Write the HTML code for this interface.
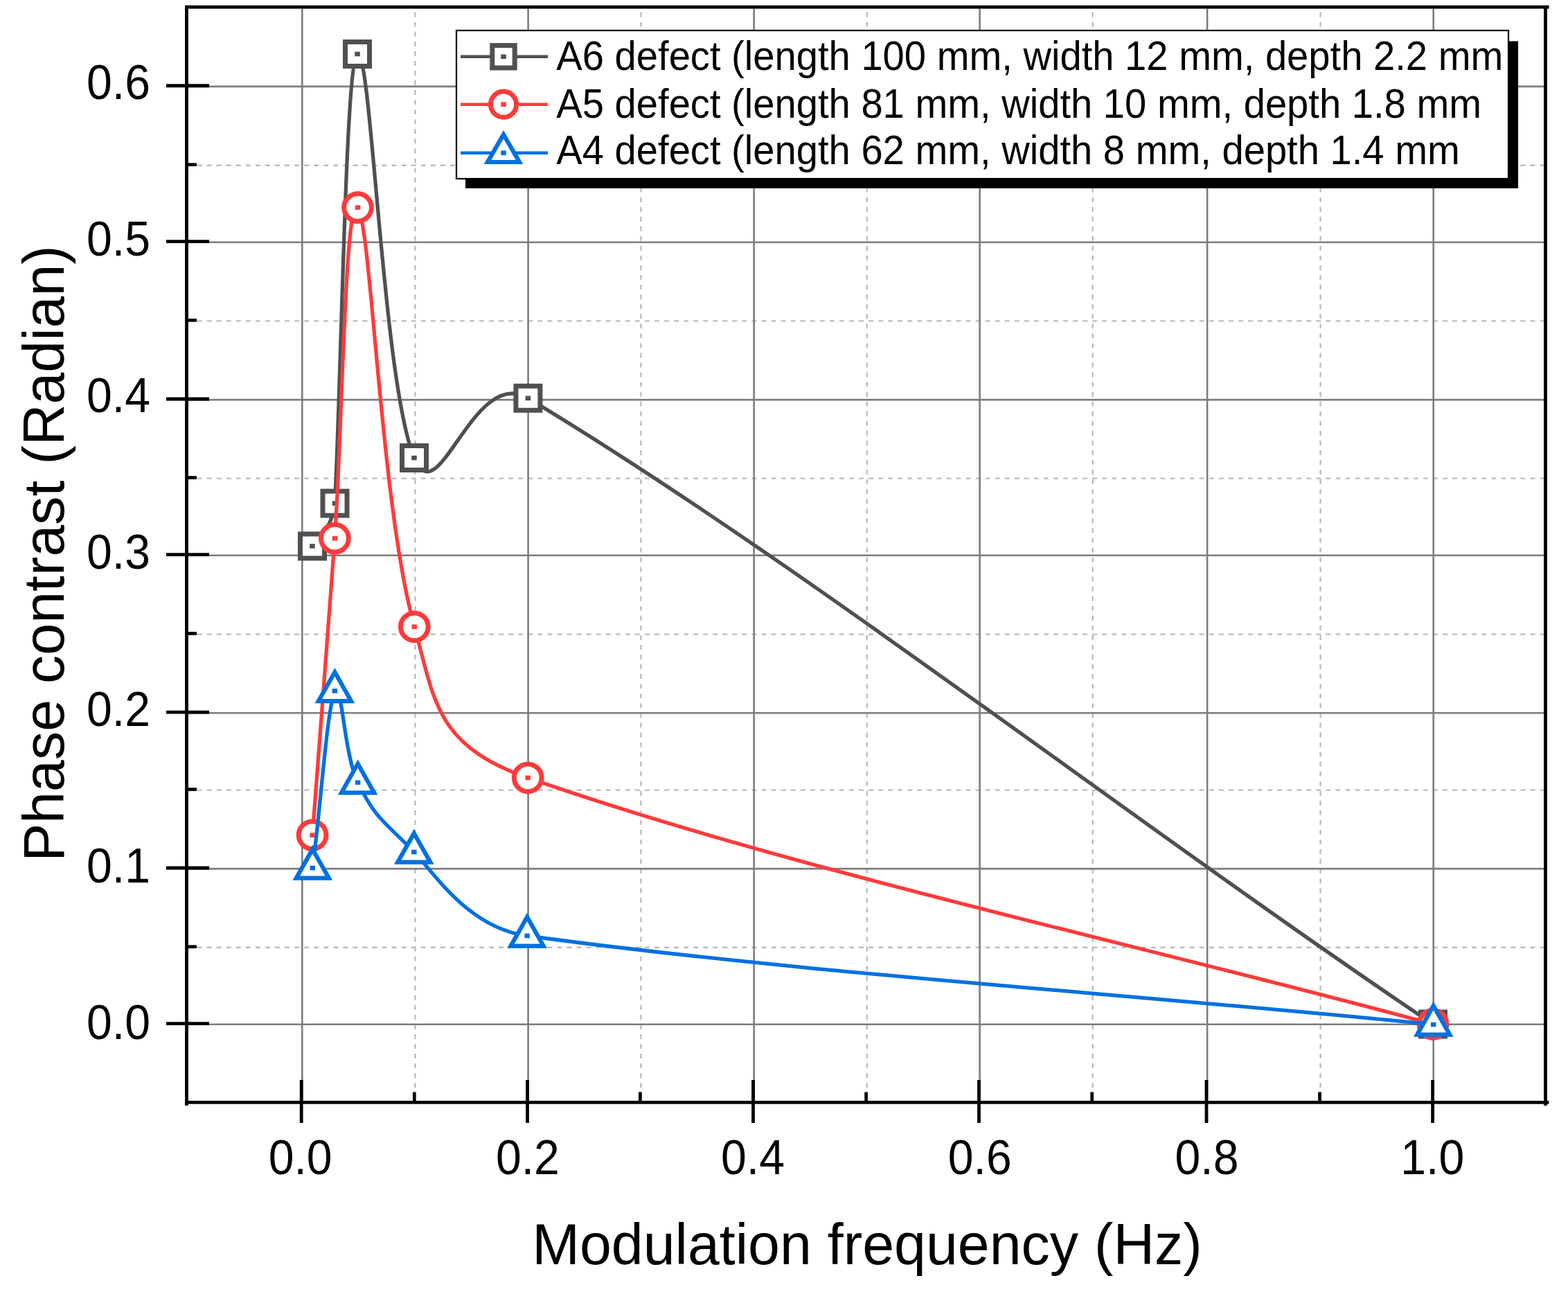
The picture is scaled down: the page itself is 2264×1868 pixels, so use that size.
<!DOCTYPE html>
<html><head><meta charset="utf-8"><title>Phase contrast vs modulation frequency</title>
<style>html,body{margin:0;padding:0;background:#fff;}body{width:2264px;height:1868px;overflow:hidden;}svg{display:block;}</style>
</head><body>
<svg xmlns="http://www.w3.org/2000/svg" width="2264" height="1868" viewBox="0 0 2264 1868">
<rect x="0" y="0" width="2264" height="1868" fill="#fff"/>
<g stroke="#bdbdbd" stroke-width="2.4" stroke-dasharray="7 7.05"><line x1="599.4" y1="12.5" x2="599.4" y2="1576.5" stroke-dashoffset="8.85"/><line x1="925.5" y1="12.5" x2="925.5" y2="1576.5" stroke-dashoffset="8.85"/><line x1="1251.7" y1="12.5" x2="1251.7" y2="1576.5" stroke-dashoffset="8.85"/><line x1="1577.8" y1="12.5" x2="1577.8" y2="1576.5" stroke-dashoffset="8.85"/><line x1="1906.6" y1="12.5" x2="1906.6" y2="1576.5" stroke-dashoffset="8.85"/><line x1="284" y1="1367.8" x2="2229" y2="1367.8" stroke-dashoffset="13.45"/><line x1="284" y1="1140.6" x2="2229" y2="1140.6" stroke-dashoffset="13.45"/><line x1="284" y1="915.6" x2="2229" y2="915.6" stroke-dashoffset="13.45"/><line x1="284" y1="690.6" x2="2229" y2="690.6" stroke-dashoffset="13.45"/><line x1="284" y1="463.4" x2="2229" y2="463.4" stroke-dashoffset="13.45"/><line x1="284" y1="238.8" x2="2229" y2="238.8" stroke-dashoffset="13.45"/></g>
<g stroke="#7c7c7c" stroke-width="2.6"><line x1="436.3" y1="12.5" x2="436.3" y2="1589"/><line x1="762.6" y1="12.5" x2="762.6" y2="1589"/><line x1="1088.6" y1="12.5" x2="1088.6" y2="1589"/><line x1="1414.6" y1="12.5" x2="1414.6" y2="1589"/><line x1="1743.1" y1="12.5" x2="1743.1" y2="1589"/><line x1="2069.7" y1="12.5" x2="2069.7" y2="1589"/><line x1="272" y1="1478.7" x2="2229" y2="1478.7"/><line x1="272" y1="1254.1" x2="2229" y2="1254.1"/><line x1="272" y1="1029.2" x2="2229" y2="1029.2"/><line x1="272" y1="801.7" x2="2229" y2="801.7"/><line x1="272" y1="577.1" x2="2229" y2="577.1"/><line x1="272" y1="349.8" x2="2229" y2="349.8"/><line x1="272" y1="124.85" x2="2229" y2="124.85"/></g>
<path d="M451,788.4 C459.48,784.77 482.22,752.23 483.5,726.6 C493.28,530.64 499.16,88 516,78 C536.32,65.93 552.24,550.04 598,661 C633.15,746.22 683.18,527.1 762.4,574.8 C1156.66,812.17 1639.1,1189.38 2069,1478.5" fill="none" stroke="#505050" stroke-width="5.3" stroke-linejoin="round"/>
<rect x="433.5" y="770.9" width="35" height="35" fill="#fff" stroke="#505050" stroke-width="7"/><rect x="447.25" y="785.1" width="7.5" height="6.6" fill="#505050"/><rect x="466" y="709.1" width="35" height="35" fill="#fff" stroke="#505050" stroke-width="7"/><rect x="479.75" y="723.3" width="7.5" height="6.6" fill="#505050"/><rect x="498.5" y="60.5" width="35" height="35" fill="#fff" stroke="#505050" stroke-width="7"/><rect x="512.25" y="74.7" width="7.5" height="6.6" fill="#505050"/><rect x="580.5" y="643.5" width="35" height="35" fill="#fff" stroke="#505050" stroke-width="7"/><rect x="594.25" y="657.7" width="7.5" height="6.6" fill="#505050"/><rect x="744.9" y="557.3" width="35" height="35" fill="#fff" stroke="#505050" stroke-width="7"/><rect x="758.65" y="571.5" width="7.5" height="6.6" fill="#505050"/><rect x="2051.5" y="1461" width="35" height="35" fill="#fff" stroke="#505050" stroke-width="7"/><rect x="2065.25" y="1475.2" width="7.5" height="6.6" fill="#505050"/>
<path d="M451.1,1205.6 C461.04,1067.35 473.72,916.24 483.4,777.2 C493.83,627.46 498.19,277.25 516.5,299.5 C536.11,323.32 549.19,728.03 598.3,904.8 C628.07,1011.98 628.33,1075.84 762.2,1122.8 C1137.89,1254.59 1645.98,1363.47 2069,1478.5" fill="none" stroke="#FF3B3B" stroke-width="5.3" stroke-linejoin="round"/>
<circle cx="451.1" cy="1205.6" r="19.9" fill="#fff" stroke="#FF3B3B" stroke-width="7"/><rect x="447.35" y="1202.3" width="7.5" height="6.6" fill="#FF3B3B"/><circle cx="483.4" cy="777.2" r="19.9" fill="#fff" stroke="#FF3B3B" stroke-width="7"/><rect x="479.65" y="773.9" width="7.5" height="6.6" fill="#FF3B3B"/><circle cx="516.5" cy="299.5" r="19.9" fill="#fff" stroke="#FF3B3B" stroke-width="7"/><rect x="512.75" y="296.2" width="7.5" height="6.6" fill="#FF3B3B"/><circle cx="598.3" cy="904.8" r="19.9" fill="#fff" stroke="#FF3B3B" stroke-width="7"/><rect x="594.55" y="901.5" width="7.5" height="6.6" fill="#FF3B3B"/><circle cx="762.2" cy="1122.8" r="19.9" fill="#fff" stroke="#FF3B3B" stroke-width="7"/><rect x="758.45" y="1119.5" width="7.5" height="6.6" fill="#FF3B3B"/><circle cx="2069" cy="1478.5" r="19.9" fill="#fff" stroke="#FF3B3B" stroke-width="7"/><rect x="2065.25" y="1475.2" width="7.5" height="6.6" fill="#FF3B3B"/>
<path d="M451.3,1253 C462.52,1171.19 472.06,1023.07 483.4,997.4 C492.91,975.88 496.34,1088.57 516.6,1129.6 C543.46,1184 552.8,1183.17 597.8,1230 C627.82,1261.24 676.02,1339.21 761.1,1350.9 C1150.33,1404.39 1639.99,1435.4 2069.7,1479" fill="none" stroke="#0070E0" stroke-width="5.3" stroke-linejoin="round"/>
<polygon points="451.3,1225.9 474.91,1267.7 427.69,1267.7" fill="#fff" stroke="#0070E0" stroke-width="6.2" stroke-linejoin="miter"/><rect x="447.55" y="1249.7" width="7.5" height="6.6" fill="#0070E0"/><polygon points="483.4,970.3 507.01,1012.1 459.79,1012.1" fill="#fff" stroke="#0070E0" stroke-width="6.2" stroke-linejoin="miter"/><rect x="479.65" y="994.1" width="7.5" height="6.6" fill="#0070E0"/><polygon points="516.6,1102.5 540.21,1144.3 492.99,1144.3" fill="#fff" stroke="#0070E0" stroke-width="6.2" stroke-linejoin="miter"/><rect x="512.85" y="1126.3" width="7.5" height="6.6" fill="#0070E0"/><polygon points="597.8,1202.9 621.41,1244.7 574.19,1244.7" fill="#fff" stroke="#0070E0" stroke-width="6.2" stroke-linejoin="miter"/><rect x="594.05" y="1226.7" width="7.5" height="6.6" fill="#0070E0"/><polygon points="761.1,1323.8 784.71,1365.6 737.49,1365.6" fill="#fff" stroke="#0070E0" stroke-width="6.2" stroke-linejoin="miter"/><rect x="757.35" y="1347.6" width="7.5" height="6.6" fill="#0070E0"/><polygon points="2069.7,1451.9 2093.31,1493.7 2046.09,1493.7" fill="#fff" stroke="#0070E0" stroke-width="6.2" stroke-linejoin="miter"/><rect x="2065.95" y="1475.7" width="7.5" height="6.6" fill="#0070E0"/>
<g fill="#000"><rect x="267.1" y="7.8" width="1969.5" height="4.75"/><rect x="267.1" y="1589.1" width="1969.3" height="4.6"/><rect x="267.1" y="7.8" width="4.8" height="1588.2"/><rect x="2229.1" y="7.8" width="4.8" height="1588.2"/></g>
<g stroke="#000" stroke-width="4.8"><line x1="240" y1="1477.6" x2="302" y2="1477.6"/><line x1="240" y1="1253" x2="302" y2="1253"/><line x1="240" y1="1028.1" x2="302" y2="1028.1"/><line x1="240" y1="800.6" x2="302" y2="800.6"/><line x1="240" y1="576" x2="302" y2="576"/><line x1="240" y1="348.7" x2="302" y2="348.7"/><line x1="240" y1="123.75" x2="302" y2="123.75"/><line x1="435.2" y1="1559" x2="435.2" y2="1621"/><line x1="761.5" y1="1559" x2="761.5" y2="1621"/><line x1="1087.5" y1="1559" x2="1087.5" y2="1621"/><line x1="1413.5" y1="1559" x2="1413.5" y2="1621"/><line x1="1742" y1="1559" x2="1742" y2="1621"/><line x1="2068.6" y1="1559" x2="2068.6" y2="1621"/></g>
<g stroke="#000" stroke-width="4.7"><line x1="270" y1="1366.7" x2="284" y2="1366.7"/><line x1="270" y1="1139.5" x2="284" y2="1139.5"/><line x1="270" y1="914.5" x2="284" y2="914.5"/><line x1="270" y1="689.5" x2="284" y2="689.5"/><line x1="270" y1="462.3" x2="284" y2="462.3"/><line x1="270" y1="237.7" x2="284" y2="237.7"/><line x1="598.3" y1="1576.5" x2="598.3" y2="1590"/><line x1="924.4" y1="1576.5" x2="924.4" y2="1590"/><line x1="1250.6" y1="1576.5" x2="1250.6" y2="1590"/><line x1="1576.7" y1="1576.5" x2="1576.7" y2="1590"/><line x1="1905.5" y1="1576.5" x2="1905.5" y2="1590"/></g>
<g font-family="'Liberation Sans', sans-serif" font-size="70" fill="#000"><text transform="translate(217,1499.58) scale(0.945,1)" text-anchor="end">0.0</text><text transform="translate(217,1273.55) scale(0.945,1)" text-anchor="end">0.1</text><text transform="translate(217,1047.52) scale(0.945,1)" text-anchor="end">0.2</text><text transform="translate(217,821.49) scale(0.945,1)" text-anchor="end">0.3</text><text transform="translate(217,595.46) scale(0.945,1)" text-anchor="end">0.4</text><text transform="translate(217,369.43) scale(0.945,1)" text-anchor="end">0.5</text><text transform="translate(217,143.4) scale(0.945,1)" text-anchor="end">0.6</text><text transform="translate(433.65,1695.2) scale(0.945,1)" text-anchor="middle">0.0</text><text transform="translate(761.9,1695.2) scale(0.945,1)" text-anchor="middle">0.2</text><text transform="translate(1087,1695.2) scale(0.945,1)" text-anchor="middle">0.4</text><text transform="translate(1414.8,1695.2) scale(0.945,1)" text-anchor="middle">0.6</text><text transform="translate(1742.5,1695.2) scale(0.945,1)" text-anchor="middle">0.8</text><text transform="translate(2068.2,1695.2) scale(0.945,1)" text-anchor="middle">1.0</text></g>
<text font-family="'Liberation Sans', sans-serif" font-size="82.5" x="1252" y="1825" text-anchor="middle" fill="#000">Modulation frequency (Hz)</text>
<text font-family="'Liberation Sans', sans-serif" font-size="82.5" transform="translate(91.7,799) rotate(-90)" x="0" y="0" text-anchor="middle" fill="#000">Phase contrast (Radian)</text>
<rect x="672" y="59.5" width="1520" height="212.3" fill="#000"/>
<rect x="659" y="44" width="1519" height="214" fill="#fff" stroke="#000" stroke-width="2.2"/>
<line x1="665" y1="81.8" x2="791" y2="81.8" stroke="#505050" stroke-width="4.5"/>
<rect x="710.8" y="65.6" width="32.4" height="32.4" fill="#fff" stroke="#505050" stroke-width="7"/><rect x="723.25" y="78.5" width="7.5" height="6.6" fill="#505050"/>
<text font-family="'Liberation Sans', sans-serif" font-size="58.5" transform="translate(803.3,101.2) scale(0.96,1)" fill="#000">A6 defect (length 100 mm, width 12 mm, depth 2.2 mm</text>
<line x1="665" y1="150.7" x2="791" y2="150.7" stroke="#FF3B3B" stroke-width="4.5"/>
<circle cx="727" cy="150.7" r="18.6" fill="#fff" stroke="#FF3B3B" stroke-width="7"/><rect x="723.25" y="147.4" width="7.5" height="6.6" fill="#FF3B3B"/>
<text font-family="'Liberation Sans', sans-serif" font-size="58.5" transform="translate(803.3,170) scale(0.96,1)" fill="#000">A5 defect (length 81 mm, width 10 mm, depth 1.8 mm</text>
<line x1="665" y1="220.7" x2="791" y2="220.7" stroke="#0070E0" stroke-width="4.5"/>
<polygon points="727,194.1 750.04,234 703.96,234" fill="#fff" stroke="#0070E0" stroke-width="6.2" stroke-linejoin="miter"/><rect x="723.25" y="217.4" width="7.5" height="6.6" fill="#0070E0"/>
<text font-family="'Liberation Sans', sans-serif" font-size="58.5" transform="translate(803.3,237) scale(0.96,1)" fill="#000">A4 defect (length 62 mm, width 8 mm, depth 1.4 mm</text>
</svg>
</body></html>
